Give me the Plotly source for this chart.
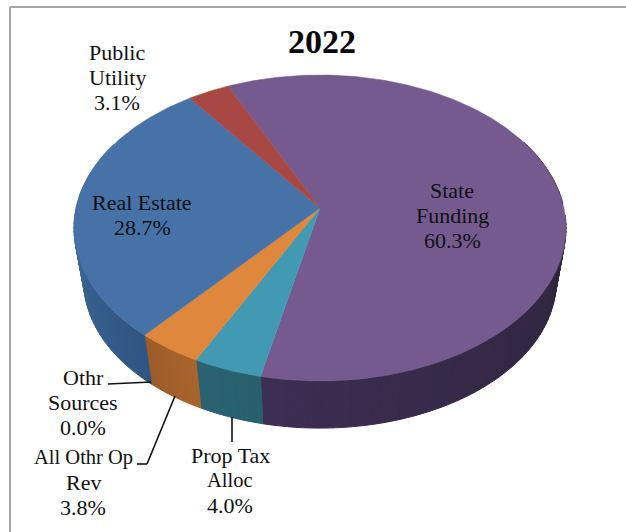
import numpy as np
import plotly.graph_objects as go

# Data (clockwise from the first slice)
categories = ["State<br>Funding", "Prop Tax<br>Alloc", "All Othr Op<br>Rev", "Othr<br>Sources", "Real Estate", "Public<br>Utility"]
values = [60.3, 4.0, 3.8, 0.0, 28.7, 3.1]
top_colors = ["#755A90", "#429AB2", "#DF873C", "#DF873C", "#4672A8", "#A84844"]
# wall colours: shade at the start and at the end of each slice's arc
wall_start = ["#1C1A1E", "#27606C", "#A9642C", "#A9642C", "#2F5583", "#7A3230"]
wall_end = ["#3C2D52", "#2A6272", "#9C5C28", "#9C5C28", "#4C7BAD", "#7A3230"]
label_pos = [(452, 215), (230, 480), (83, 482), (83, 402), (142, 215), (117, 77)]

# Pie geometry on the page
CX, CY, A, B, K = 320.0, 208.0, 243.9, 150.4, 0.1307
CY2, S = 262.0, 0.96
START = 335.0
LINE_GAP = 25
total = sum(values)


def project(theta_deg, r=1.0, cy=CY, s=1.0):
    t = np.radians(theta_deg)
    u, v = r * np.sin(t), -r * np.cos(t)
    d = 1 - K * v
    return CX + s * A * u / d, cy + s * B * v / d


def hex2rgb(h):
    return np.array([int(h[i:i + 2], 16) for i in (1, 3, 5)], float)


def mix(a, b, f):
    c = hex2rgb(a) * (1 - f) + hex2rgb(b) * f
    return "rgb(%d,%d,%d)" % tuple(c.round())


fig = go.Figure()
edges = START + np.concatenate([[0], np.cumsum(values)]) * 360 / total


def poly(x, y, color, lw=1.0):
    fig.add_trace(go.Scatter(x=x, y=y, mode="lines", fill="toself", fillcolor=color,
                             line=dict(color=color, width=lw), hoverinfo="skip", showlegend=False))


# outer wall, in strips so that the shade can change along the arc
for i, v in enumerate(values):
    if v == 0:
        continue
    a0, a1 = edges[i], edges[i + 1]
    n = max(2, int((a1 - a0) / 1.5))
    steps = np.linspace(a0, a1, n + 1)
    for j in range(n):
        th = np.linspace(steps[j], steps[j + 1], 3)
        if np.sin(np.radians(th[1])) > 0.999 or np.cos(np.radians(th[1])) > 0.45:
            continue  # far side of the disc: hidden by the top face
        x1, y1 = project(th)
        x2, y2 = project(th[::-1], cy=CY2, s=S)
        poly(np.r_[x1, x2, x1[0]], np.r_[y1, y2, y1[0]], mix(wall_start[i], wall_end[i], j / max(1, n - 1)))

# top face
for i, v in enumerate(values):
    if v == 0:
        continue
    th = np.linspace(edges[i], edges[i + 1], max(3, int(v * 6)))
    x, y = project(th)
    poly(np.r_[CX, x, CX], np.r_[CY, y, CY], top_colors[i], lw=0.5)

annotations = []
for c, v, (x, y) in zip(categories, values, label_pos):
    lines = c.split("<br>") + [f"{v:.1f}%"]
    for k, text in enumerate(lines):
        annotations.append(dict(x=x, y=y + (k - (len(lines) - 1) / 2) * LINE_GAP, xref="x", yref="y",
                                text=text, showarrow=False, xanchor="center", yanchor="middle",
                                font=dict(family="Liberation Serif", size=20.5 if text.startswith("All") else 22,
                                          color="#111111")))
annotations.append(dict(x=322, y=41, xref="x", yref="y", text="<b>2022</b>", showarrow=False,
                        xanchor="center", yanchor="middle",
                        font=dict(family="Liberation Serif", size=34, color="#0a0a0a")))

line_k = dict(type="line", xref="x", yref="y", line=dict(color="#111111", width=1.6))
shapes = [
    dict(line_k, x0=108, y0=384, x1=151, y1=382),
    dict(line_k, x0=137, y0=464, x1=147, y1=464),
    dict(line_k, x0=147, y0=464, x1=175, y1=396),
    dict(line_k, x0=232, y0=417, x1=232, y1=442),
    dict(type="line", xref="x", yref="y", x0=10, y0=7, x1=626, y1=7, line=dict(color="#a6a6a6", width=2)),
    dict(type="line", xref="x", yref="y", x0=10, y0=7, x1=10, y1=532, line=dict(color="#a6a6a6", width=2)),
]

fig.update_layout(
    width=626, height=532, margin=dict(l=0, r=0, t=0, b=0), showlegend=False,
    paper_bgcolor="white", plot_bgcolor="white",
    xaxis=dict(range=[0, 626], visible=False, fixedrange=True),
    yaxis=dict(range=[532, 0], visible=False, fixedrange=True),
    annotations=annotations, shapes=shapes,
)
fig.write_html("out.html", config=dict(displayModeBar=False),
               post_script="document.body.style.margin='0';document.body.style.overflow='hidden';")
